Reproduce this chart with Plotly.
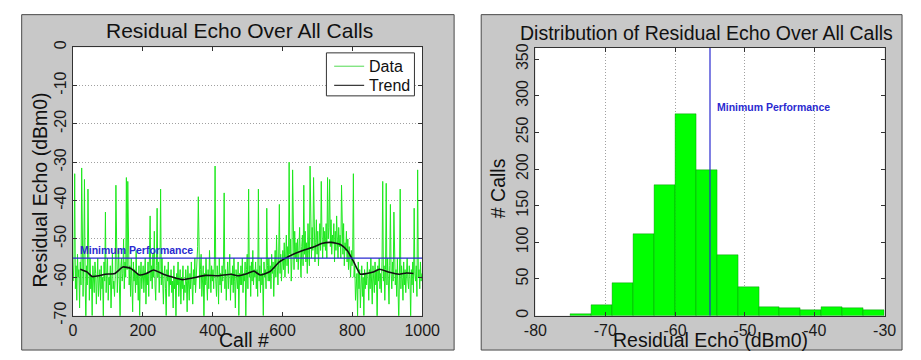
import plotly.graph_objects as go

W, H = 921, 360

# ---------------- data ----------------
calls = list(range(1, 1000, 2))
residual_echo = [
    # 1-39
    -61, -55, -33, -63, -57, -66, -54, -60, -58, -68, -56, -62, -31.5, -59, -65, -55, -34.5, -61, -72, -57,
    # 41-79
    -62, -37, -58, -66, -55, -63, -60, -70, -57, -61, -64, -56, -59, -67, -62, -55, -65, -60, -58, -66,
    # 81-119
    -57, -63, -60, -71, -56, -61, -43, -64, -58, -55, -66, -60, -62, -57, -68, -59, -54, -63, -61, -65,
    # 121-159
    -60, -36, -56, -64, -58, -53, -62, -71, -57, -55, -61, -59, -50, -63, -56, -60, -34, -58, -35, -54,
    # 161-199
    -62, -57, -65, -55, -60, -69, -56, -61, -58, -64, -53, -62, -59, -66, -57, -70, -60, -56, -63, -59,
    # 201-239
    -57, -64, -60, -55, -67, -59, -62, -56, -65, -58, -44, -61, -57, -63, -54, -60, -48, -62, -66, -57,
    # 241-279
    -42, -60, -56, -64, -58, -37, -62, -55, -61, -67, -59, -57, -63, -70, -58, -61, -56, -65, -60, -62,
    # 281-319
    -58, -64, -61, -68, -57, -63, -60, -71, -59, -62, -56, -65, -61, -58, -67, -60, -63, -57, -66, -62,
    # 321-359
    -64, -58, -61, -69, -57, -62, -66, -59, -63, -56, -60, -67, -58, -62, -55, -64, -60, -57, -52, -39,
    # 361-399
    -56, -63, -58, -54, -65, -60, -57, -72, -59, -62, -55, -61, -66, -58, -63, -53, -60, -64, -57, -61,
    # 401-439
    -58, -63, -56, -31, -61, -65, -57, -60, -67, -55, -62, -59, -64, -57, -61, -56, -38, -63, -58, -66,
    # 441-479
    -60, -56, -63, -58, -54, -66, -59, -62, -57, -64, -55, -61, -68, -58, -60, -63, -56, -70, -59, -62,
    # 481-519
    -57, -62, -55, -64, -59, -61, -56, -71, -58, -54, -63, -37, -60, -57, -65, -56, -61, -53, -62, -58,
    # 521-559
    -60, -56, -63, -58, -65, -37, -61, -57, -64, -55, -62, -59, -70, -56, -60, -58, -63, -42, -57, -61,
    # 561-599
    -55, -61, -57, -63, -54, -59, -56, -65, -58, -53, -60, -49, -57, -62, -55, -41, -59, -54, -61, -56,
    # 601-639
    -53, -58, -51, -60, -55, -49, -57, -52, -59, -30, -54, -50, -61, -56, -32, -53, -58, -48, -55, -51,
    # 641-679
    -56, -50, -58, -53, -47, -55, -60, -52, -49, -57, -36, -54, -48, -56, -51, -59, -46, -53, -57, -31,
    # 681-719
    -50, -55, -47, -53, -34, -49, -56, -51, -45, -54, -48, -57, -50, -46, -53, -35, -49, -55, -47, -52,
    # 721-759
    -48, -53, -46, -55, -34, -50, -47, -34.5, -52, -45, -54, -49, -51, -46, -56, -48, -53, -44, -50, -55,
    # 761-799
    -47, -52, -49, -55, -36, -50, -54, -46, -57, -51, -53, -48, -56, -50, -58, -52, -55, -60, -53, -57,
    # 801-839
    -55, -33, -60, -57, -66, -62, -59, -71, -56, -63, -58, -68, -61, -57, -65, -60, -70, -58, -63, -59,
    # 841-879
    -62, -56, -60, -66, -58, -63, -55, -61, -67, -57, -60, -64, -56, -62, -58, -73, -57, -61, -55, -63,
    # 881-919
    -59, -64, -56, -35, -61, -57, -66, -58, -35.5, -62, -55, -60, -67, -57, -41, -59, -63, -56, -61, -43,
    # 921-959
    -57, -62, -58, -65, -55, -61, -72, -59, -37, -63, -57, -60, -66, -56, -62, -58, -64, -59, -55, -61,
    # 961-999
    -63, -57, -60, -71, -58, -62, -56, -64, -42, -59, -61, -57, -65, -32, -60, -58, -63, -56, -61, -59,
]

trend_calls = [21, 40, 55, 75, 92, 120, 143, 166, 190, 210, 231, 259, 287, 314,
               342, 379, 416, 453, 471, 500, 518, 536, 564, 591, 619, 656, 693,
               712, 739, 767, 786, 804, 823, 841, 860, 878, 906, 934, 955, 975]
trend_values = [-57.9, -58.6, -59.8, -59.6, -59.2, -59.0, -57.3, -57.7, -59.4, -59.0,
                -58.1, -59.2, -60.0, -60.6, -60.2, -59.5, -59.6, -59.2, -59.6, -59.0,
                -58.4, -59.4, -58.5, -56.0, -54.5, -53.1, -52.0, -51.2, -50.9, -51.5,
                -53.1, -56.0, -59.2, -59.0, -58.6, -57.9, -58.7, -59.2, -58.9, -59.0]

bin_centers = [-73.5, -70.5, -67.5, -64.5, -61.5, -58.5, -55.5, -52.5,
               -49.5, -46.5, -43.5, -40.5, -37.5, -34.5, -31.5]
bin_counts = [2, 15, 45, 111, 178, 275, 199, 82, 39, 11, 10, 7, 12, 10, 8]
bin_width = 3

min_perf = -55

left_yticks = [0, -10, -20, -30, -40, -50, -60, -70]
left_xticks = [0, 200, 400, 600, 800, 1000]
right_xticks = [-80, -70, -60, -50, -40, -30]
right_yticks = [0, 50, 100, 150, 200, 250, 300, 350]

legend_labels = ["Data", "Trend"]

# ---------------- layout geometry (pixels) ----------------
def px(x):
    return x / W

def py(y):
    return (H - y) / H

L_x0, L_x1, L_y0, L_y1 = 63, 424, 42, 323
R_x0, R_x1, R_y0, R_y1 = 541, 902, 43, 323

FONT = "Liberation Sans, Arial, Helvetica, sans-serif"
AX = "#333333"
BLUE = "#2a2ad0"
GREEN = "rgb(30,232,30)"
TREND = "#111111"

fig = go.Figure()

fig.add_trace(go.Scatter(x=calls, y=residual_echo, mode="lines", name="Data",
                         line=dict(color=GREEN, width=1), xaxis="x", yaxis="y",
                         showlegend=False))
fig.add_trace(go.Scatter(x=trend_calls, y=trend_values, mode="lines", name="Trend",
                         line=dict(color=TREND, width=1.6, shape="spline", smoothing=0.5),
                         xaxis="x", yaxis="y", showlegend=False))
fig.add_trace(go.Scatter(x=[0, 1000], y=[min_perf, min_perf], mode="lines",
                         line=dict(color=BLUE, width=1.2), showlegend=False,
                         xaxis="x", yaxis="y"))

fig.add_trace(go.Bar(x=bin_centers, y=bin_counts, width=bin_width,
                     marker=dict(color="#00ff00", line=dict(color="rgba(0,110,0,0.6)", width=0.6)),
                     showlegend=False, xaxis="x2", yaxis="y2"))
fig.add_trace(go.Scatter(x=[min_perf, min_perf], y=[0, 365], mode="lines",
                         line=dict(color=BLUE, width=1.2), showlegend=False,
                         xaxis="x2", yaxis="y2"))

def labels(vals):
    return [str(v) for v in vals]  # plain hyphen minus, as in the original

common_axis = dict(showline=True, linecolor=AX, linewidth=1, mirror="ticks",
                   ticks="inside", ticklen=4, tickcolor=AX, zeroline=False,
                   tickfont=dict(family=FONT, size=16, color="#1a1a1a"))
grid = dict(showgrid=True, gridcolor="#a0a0a0", griddash="1px,2px", gridwidth=1)

fig.update_layout(
    width=W, height=H,
    margin=dict(l=0, r=0, t=0, b=0),
    paper_bgcolor="white",
    plot_bgcolor="rgba(0,0,0,0)",
    bargap=0,
    showlegend=False,
    xaxis=dict(domain=[px(L_x0), px(L_x1)], anchor="y", range=[0, 1000],
               tickvals=left_xticks, ticktext=labels(left_xticks), showgrid=False, **common_axis),
    yaxis=dict(domain=[py(L_y1), py(L_y0)], anchor="x", range=[-70, 0],
               tickvals=left_yticks, ticktext=labels(left_yticks), tickangle=-90,
               **grid, **common_axis),
    xaxis2=dict(domain=[px(R_x0), px(R_x1)], anchor="y2", range=[-80, -30],
                tickvals=right_xticks, ticktext=labels(right_xticks), **grid, **common_axis),
    yaxis2=dict(domain=[py(R_y1), py(R_y0)], anchor="x2", range=[0, 365],
                tickvals=right_yticks, ticktext=labels(right_yticks), tickangle=-90,
                showgrid=False, **common_axis),
)

# gray figure boxes, white plot areas, legend box
shapes = []
for (bx0, bx1) in [(10, 457), (485, 920)]:
    shapes.append(dict(type="rect", xref="paper", yref="paper", layer="below",
                       x0=px(bx0), x1=px(bx1), y0=py(359), y1=py(8),
                       fillcolor="#c8c8c8", line=dict(color="#4a4a4a", width=1)))
for (ax0, ax1, ay0, ay1) in [(L_x0, L_x1, L_y0, L_y1), (R_x0, R_x1, R_y0, R_y1)]:
    shapes.append(dict(type="rect", xref="paper", yref="paper", layer="below",
                       x0=px(ax0), x1=px(ax1), y0=py(ay1), y1=py(ay0),
                       fillcolor="white", line=dict(width=0)))
shapes.append(dict(type="rect", xref="paper", yref="paper", layer="above",
                   x0=px(325), x1=px(416), y0=py(93), y1=py(48),
                   fillcolor="white", line=dict(color=AX, width=1)))
for yy, col, wd in [(62, "rgb(110,225,110)", 1.2), (82, "#333333", 1.2)]:
    shapes.append(dict(type="line", xref="paper", yref="paper", layer="above",
                       x0=px(333), x1=px(364), y0=py(yy), y1=py(yy),
                       line=dict(color=col, width=wd)))
fig.update_layout(shapes=shapes)

ann = []
def text(x, y, s, size, angle=0, xanchor="center", yanchor="middle", color="#111111"):
    ann.append(dict(x=px(x), y=py(y), xref="paper", yref="paper", text=s,
                    showarrow=False, textangle=angle, xanchor=xanchor, yanchor=yanchor,
                    font=dict(family=FONT, size=size, color=color)))

text(235.5, 25, "Residual Echo Over All Calls", 21)
text(718, 27, "Distribution of Residual Echo Over All Calls", 19.5)
text(29, 192, "Residual Echo (dBm0)", 19.5, angle=-90)
text(240, 349, "Call #", 19.5)
text(502, 190, "# Calls", 19.5, angle=-90)
text(722, 348, "Residual Echo (dBm0)", 19.5)
text(367, 62, legend_labels[0], 16, xanchor="left")
text(367, 82, legend_labels[1], 16, xanchor="left")
fig.update_layout(annotations=ann)

fig.add_annotation(x=14, y=-52.8, xref="x", yref="y", text="<b>Minimum Performance</b>",
                   showarrow=False, xanchor="left", yanchor="middle",
                   font=dict(family=FONT, size=10.5, color=BLUE))
fig.add_annotation(x=-54.3, y=284, xref="x2", yref="y2", text="<b>Minimum Performance</b>",
                   showarrow=False, xanchor="left", yanchor="middle",
                   font=dict(family=FONT, size=10.5, color=BLUE))

fig.write_html("out.html", config={"displayModeBar": False},
               post_script="document.body.style.margin='0';document.body.style.overflow='hidden';")
